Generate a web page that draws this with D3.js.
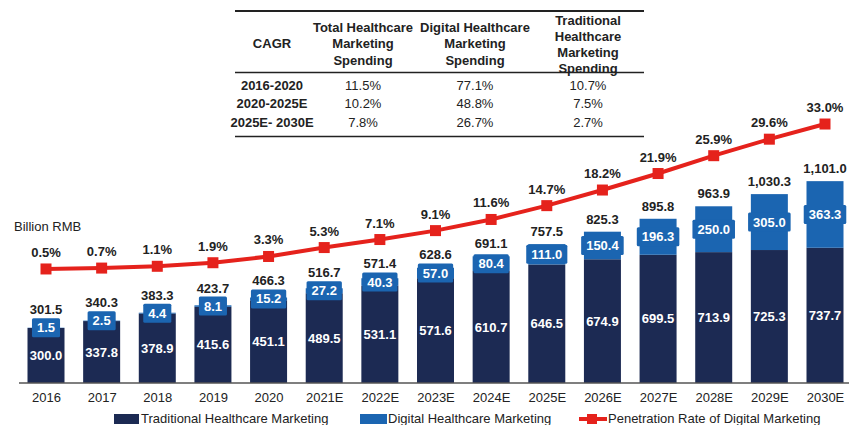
<!DOCTYPE html>
<html>
<head>
<meta charset="utf-8">
<script src="https://cdn.jsdelivr.net/npm/d3@7"></script>
<style>
  body { margin: 0; background: #fff; }
  svg { display: block; font-family: Arial, "Liberation Sans", sans-serif; }
</style>
</head>
<body>
<svg id="chart" width="849" height="425"></svg>
<script>
// chart data
let years = ["2016", "2017", "2018", "2019", "2020", "2021E", "2022E", "2023E", "2024E",
  "2025E", "2026E", "2027E", "2028E", "2029E", "2030E"];
let traditional = [300.0, 337.8, 378.9, 415.6, 451.1, 489.5, 531.1, 571.6, 610.7, 646.5,
  674.9, 699.5, 713.9, 725.3, 737.7];
let digital = [1.5, 2.5, 4.4, 8.1, 15.2, 27.2, 40.3, 57.0, 80.4, 111.0, 150.4, 196.3,
  250.0, 305.0, 363.3];
let totals = [301.5, 340.3, 383.3, 423.7, 466.3, 516.7, 571.4, 628.6, 691.1, 757.5,
  825.3, 895.8, 963.9, 1030.3, 1101.0];
let penetration = [0.5, 0.7, 1.1, 1.9, 3.3, 5.3, 7.1, 9.1, 11.6, 14.7, 18.2, 21.9, 25.9,
  29.6, 33.0];

// CAGR table
let cagrHeaders = [["CAGR"], ["Total Healthcare", "Marketing", "Spending"],
  ["Digital Healthcare", "Marketing", "Spending"],
  ["Traditional", "Healthcare", "Marketing", "Spending"]];
let cagrPeriods = ["2016-2020", "2020-2025E", "2025E- 2030E"];
let cagrTotal = ["11.5%", "10.2%", "7.8%"];
let cagrDigital = ["77.1%", "48.8%", "26.7%"];
let cagrTraditional = ["10.7%", "7.5%", "2.7%"];

let navy = "#1c2a53";
let blue = "#1b65b1";
let red = "#e5221c";
let barWidth = 37;

const svg = d3.select("#chart");

const x = d3.scalePoint().domain(years).range([46, 825]);
const y = d3.scaleLinear().domain([0, 1200]).range([383, 163]);
const yPen = d3.scaleLinear().domain([0, 40]).range([271.2, 92.8]);

const rows = years.map(function (yr, i) {
  return { year: yr, trad: traditional[i], dig: digital[i], total: totals[i], pen: penetration[i] };
});

// table
const table = svg.append("g");
const colX = [272, 363, 475, 588];
table.append("line").attr("x1", 235).attr("x2", 644).attr("y1", 11).attr("y2", 11)
  .attr("stroke", "#222").attr("stroke-width", 2);
table.append("line").attr("x1", 235).attr("x2", 644).attr("y1", 72.5).attr("y2", 72.5)
  .attr("stroke", "#222").attr("stroke-width", 1.3);
table.append("line").attr("x1", 235).attr("x2", 644).attr("y1", 136.5).attr("y2", 136.5)
  .attr("stroke", "#222").attr("stroke-width", 1.3);

cagrHeaders.forEach(function (lines, c) {
  let startY = lines.length === 4 ? 24.5 : (lines.length === 3 ? 31.5 : 48);
  let step = lines.length === 4 ? 16 : 16.5;
  lines.forEach(function (t, k) {
    table.append("text")
      .attr("x", colX[c]).attr("y", startY + k * step)
      .attr("text-anchor", "middle")
      .style("font-size", "13px").style("font-weight", "bold").style("fill", "#222")
      .text(t);
  });
});

const rowY = [89.5, 108, 126.5];
cagrPeriods.forEach(function (p, r) {
  table.append("text").attr("x", colX[0]).attr("y", rowY[r]).attr("text-anchor", "middle")
    .style("font-size", "13px").style("font-weight", "bold").style("fill", "#222").text(p);
  [cagrTotal, cagrDigital, cagrTraditional].forEach(function (arr, c) {
    table.append("text").attr("x", colX[c + 1]).attr("y", rowY[r]).attr("text-anchor", "middle")
      .style("font-size", "13px").style("fill", "#222").text(arr[r]);
  });
});

// unit label
svg.append("text").attr("x", 14).attr("y", 231)
  .style("font-size", "13px").style("fill", "#222").text("Billion RMB");

// bars
const bars = svg.append("g");
bars.selectAll("rect.trad")
  .data(rows)
  .enter()
  .append("rect")
  .attr("class", "trad")
  .attr("x", function (d) { return x(d.year) - barWidth / 2; })
  .attr("y", function (d) { return y(d.trad); })
  .attr("width", barWidth)
  .attr("height", function (d) { return y(0) - y(d.trad); })
  .style("fill", navy);

bars.selectAll("rect.dig")
  .data(rows)
  .enter()
  .append("rect")
  .attr("class", "dig")
  .attr("x", function (d) { return x(d.year) - barWidth / 2; })
  .attr("y", function (d) { return y(d.trad + d.dig); })
  .attr("width", barWidth)
  .attr("height", function (d) { return y(d.trad) - y(d.trad + d.dig); })
  .style("fill", blue);

// axis
const xAxis = d3.axisBottom(x).tickSize(0).tickPadding(10);
const axisG = svg.append("g").attr("transform", "translate(0,383)").call(xAxis);
axisG.select(".domain").remove();
axisG.append("line").attr("x1", 19).attr("x2", 849).attr("y1", 0).attr("y2", 0)
  .attr("stroke", "#555").attr("stroke-width", 1.5);
axisG.selectAll("text")
  .style("font-size", "13px").style("fill", "#222")
  .style("font-family", "Arial, 'Liberation Sans', sans-serif");

// digital value boxes
function boxCenter(d) {
  return (y(d.trad) + y(d.trad + d.dig)) / 2;
}
const digLabels = svg.append("g").selectAll("g")
  .data(rows)
  .enter()
  .append("g")
  .attr("transform", function (d) {
    return "translate(" + x(d.year) + "," + boxCenter(d) + ")";
  });
digLabels.append("text")
  .attr("text-anchor", "middle")
  .attr("dy", "0.35em")
  .style("font-size", "13px").style("font-weight", "bold").style("fill", "#fff")
  .text(function (d) { return d.dig.toFixed(1); });
digLabels.each(function () {
  const g = d3.select(this);
  const w = g.select("text").node().getComputedTextLength();
  g.insert("rect", "text")
    .attr("x", -w / 2 - 5).attr("y", -9.5)
    .attr("width", w + 10).attr("height", 19)
    .attr("rx", 1.5)
    .style("fill", blue);
});

// traditional value labels
svg.append("g").selectAll("text")
  .data(rows)
  .enter()
  .append("text")
  .attr("x", function (d) { return x(d.year); })
  .attr("y", function (d) { return (y(0) + y(d.trad)) / 2; })
  .attr("dy", "0.35em")
  .attr("text-anchor", "middle")
  .style("font-size", "13px").style("font-weight", "bold").style("fill", "#fff")
  .text(function (d) { return d.trad.toFixed(1); });

// total labels
const fmtTotal = d3.format(",.1f");
svg.append("g").selectAll("text")
  .data(rows)
  .enter()
  .append("text")
  .attr("x", function (d) { return x(d.year); })
  .attr("y", function (d) {
    return Math.min(y(d.total) - 8, boxCenter(d) - 9.5 - 4);
  })
  .attr("text-anchor", "middle")
  .style("font-size", "13px").style("font-weight", "bold").style("fill", "#222")
  .text(function (d) { return fmtTotal(d.total); });

// penetration line
const line = d3.line()
  .x(function (d) { return x(d.year); })
  .y(function (d) { return yPen(d.pen); });

svg.append("path")
  .datum(rows)
  .attr("d", line)
  .attr("fill", "none")
  .attr("stroke", red)
  .attr("stroke-width", 4);

svg.append("g").selectAll("rect")
  .data(rows)
  .enter()
  .append("rect")
  .attr("x", function (d) { return x(d.year) - 5.5; })
  .attr("y", function (d) { return yPen(d.pen) - 5.5; })
  .attr("width", 11)
  .attr("height", 11)
  .style("fill", red);

svg.append("g").selectAll("text")
  .data(rows)
  .enter()
  .append("text")
  .attr("x", function (d) { return x(d.year); })
  .attr("y", function (d) { return yPen(d.pen) - 12; })
  .attr("text-anchor", "middle")
  .style("font-size", "13px").style("font-weight", "bold").style("fill", "#222")
  .text(function (d) { return d.pen.toFixed(1) + "%"; });

// legend
const legend = svg.append("g");
legend.append("rect").attr("x", 114).attr("y", 414).attr("width", 25).attr("height", 10).style("fill", navy);
legend.append("text").attr("x", 141).attr("y", 422.5)
  .style("font-size", "13px").style("fill", "#222").text("Traditional Healthcare Marketing");
legend.append("rect").attr("x", 360).attr("y", 414).attr("width", 27).attr("height", 10).style("fill", blue);
legend.append("text").attr("x", 388).attr("y", 422.5)
  .style("font-size", "13px").style("fill", "#222").text("Digital Healthcare Marketing");
legend.append("line").attr("x1", 579).attr("x2", 607).attr("y1", 419).attr("y2", 419)
  .attr("stroke", red).attr("stroke-width", 4);
legend.append("rect").attr("x", 587).attr("y", 414).attr("width", 10).attr("height", 10).style("fill", red);
legend.append("text").attr("x", 608).attr("y", 422.5)
  .style("font-size", "13px").style("fill", "#222").text("Penetration Rate of Digital Marketing");
</script>
</body>
</html>
